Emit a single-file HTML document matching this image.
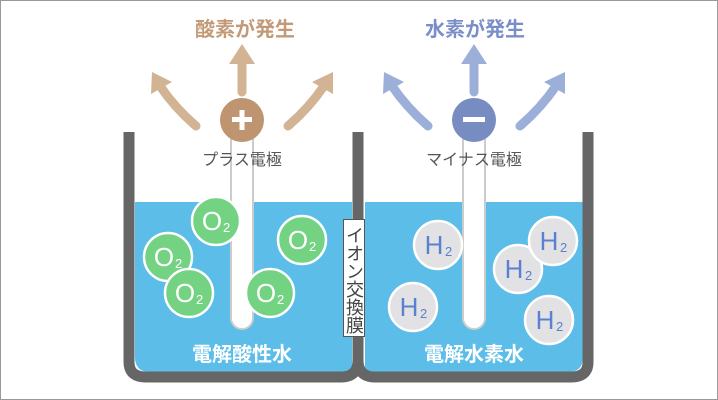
<!DOCTYPE html><html><head><style>body{margin:0;background:#fff;position:relative}svg{display:block}
.mem{position:absolute;left:343px;top:219px;width:20px;height:116px;border:1.5px solid #555;background:#fff;writing-mode:vertical-rl;font-family:"Liberation Sans","Noto Sans CJK JP",sans-serif;font-size:18px;line-height:20px;color:#444;text-align:center;letter-spacing:0;overflow:hidden}
</style></head><body>
<svg width="718" height="400" viewBox="0 0 718 400" xmlns="http://www.w3.org/2000/svg" font-family="Liberation Sans, Noto Sans CJK JP, sans-serif">
<rect x="0.5" y="0.5" width="717" height="399" fill="#fff" stroke="#999"/>
<path d="M135 202 H352 V372 H150 Q135 372 135 357 Z" fill="#5bbde8"/>
<path d="M365 202 H583 V357 Q583 372 568 372 H365 Z" fill="#5bbde8"/>
<path d="M129 132 V362 Q129 377 146 377 H341 Q358 377 358 360 V132" fill="none" stroke="#666" stroke-width="11"/>
<path d="M358 360 Q358 377 375 377 H571 Q588 377 588 362 V132" fill="none" stroke="#666" stroke-width="11"/>
<path d="M231 128 V318 A11 11 0 0 0 253 318 V128" fill="#fff" stroke="#ccc" stroke-width="2"/>
<path d="M463 128 V318 A11 11 0 0 0 485 318 V128" fill="#fff" stroke="#ccc" stroke-width="2"/>
<g fill="#d2b394" stroke="#d2b394">
<path d="M242 92 V58" stroke-width="9" stroke-linecap="round" fill="none"/>
<polygon points="229,64 255,64 242,44" stroke="none"/>
<path d="M196 126 Q175 108 160 86" stroke-width="9" stroke-linecap="round" fill="none"/>
<polygon points="152,72 172,82 151,94" stroke="none"/>
<path d="M288 126 Q309 108 324 86" stroke-width="9" stroke-linecap="round" fill="none"/>
<polygon points="333,72 312,82 333,94" stroke="none"/>
</g>
<g fill="#9cafd8" stroke="#9cafd8">
<path d="M474 92 V58" stroke-width="9" stroke-linecap="round" fill="none"/>
<polygon points="461,64 487,64 474,44" stroke="none"/>
<path d="M428 126 Q407 108 392 86" stroke-width="9" stroke-linecap="round" fill="none"/>
<polygon points="384,72 404,82 383,94" stroke="none"/>
<path d="M520 126 Q541 108 556 86" stroke-width="9" stroke-linecap="round" fill="none"/>
<polygon points="565,72 544,82 565,94" stroke="none"/>
</g>
<circle cx="242" cy="120" r="22" fill="#bf9470"/>
<rect x="232" y="117" width="20" height="5" fill="#fff"/><rect x="239.5" y="110" width="5" height="20" fill="#fff"/>
<circle cx="474" cy="120" r="22" fill="#778dc2"/>
<rect x="463" y="117" width="22" height="5" fill="#fff"/>
<text x="245" y="36" text-anchor="middle" font-size="20" font-weight="bold" fill="#c39a78">酸素が発生</text>
<text x="475" y="36" text-anchor="middle" font-size="20" font-weight="bold" fill="#7a8fc8">水素が発生</text>
<text x="242" y="165" text-anchor="middle" font-size="16" fill="#555">プラス電極</text>
<text x="474" y="165" text-anchor="middle" font-size="16" fill="#555">マイナス電極</text>
<g font-size="26" fill="#fff">
<g transform="translate(216,221)"><circle r="24" fill="#74d283" stroke="#fff" stroke-width="2.5"/><text x="-4" y="9" text-anchor="middle">O</text><text x="7" y="11" font-size="13">2</text></g>
<g transform="translate(168,257)"><circle r="24" fill="#74d283" stroke="#fff" stroke-width="2.5"/><text x="-4" y="9" text-anchor="middle">O</text><text x="7" y="11" font-size="13">2</text></g>
<g transform="translate(189,293)"><circle r="24" fill="#74d283" stroke="#fff" stroke-width="2.5"/><text x="-4" y="9" text-anchor="middle">O</text><text x="7" y="11" font-size="13">2</text></g>
<g transform="translate(302,240)"><circle r="24" fill="#74d283" stroke="#fff" stroke-width="2.5"/><text x="-4" y="9" text-anchor="middle">O</text><text x="7" y="11" font-size="13">2</text></g>
<g transform="translate(270,293)"><circle r="24" fill="#74d283" stroke="#fff" stroke-width="2.5"/><text x="-4" y="9" text-anchor="middle">O</text><text x="7" y="11" font-size="13">2</text></g>
</g>
<g font-size="26" fill="#5b80cf">
<g transform="translate(438,245)"><circle r="24" fill="#e2e2e4" stroke="#fff" stroke-width="2.5"/><text x="-4" y="9" text-anchor="middle">H</text><text x="7" y="11" font-size="13">2</text></g>
<g transform="translate(413,307)"><circle r="24" fill="#e2e2e4" stroke="#fff" stroke-width="2.5"/><text x="-4" y="9" text-anchor="middle">H</text><text x="7" y="11" font-size="13">2</text></g>
<g transform="translate(518,269)"><circle r="24" fill="#e2e2e4" stroke="#fff" stroke-width="2.5"/><text x="-4" y="9" text-anchor="middle">H</text><text x="7" y="11" font-size="13">2</text></g>
<g transform="translate(553,241)"><circle r="24" fill="#e2e2e4" stroke="#fff" stroke-width="2.5"/><text x="-4" y="9" text-anchor="middle">H</text><text x="7" y="11" font-size="13">2</text></g>
<g transform="translate(549,320)"><circle r="24" fill="#e2e2e4" stroke="#fff" stroke-width="2.5"/><text x="-4" y="9" text-anchor="middle">H</text><text x="7" y="11" font-size="13">2</text></g>
</g>
<text x="242" y="361" text-anchor="middle" font-size="20" font-weight="bold" fill="#fff">電解酸性水</text>
<text x="474" y="361" text-anchor="middle" font-size="20" font-weight="bold" fill="#fff">電解水素水</text>
</svg>
<div class="mem"><div style="padding-top:3px">イオン交換膜</div></div>
</body></html>
